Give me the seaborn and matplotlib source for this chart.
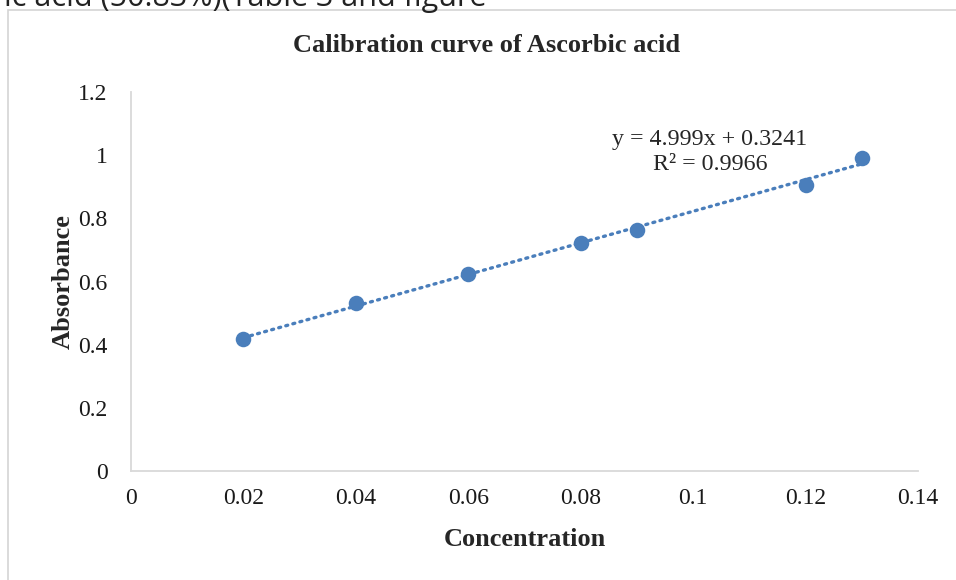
import numpy as np
import pandas as pd
import matplotlib
matplotlib.use('Agg')
import matplotlib.pyplot as plt
import seaborn as sns
from matplotlib.patches import Rectangle

# data
concentration = [0.02, 0.04, 0.06, 0.08, 0.09, 0.12, 0.13]
absorbance = [0.418, 0.532, 0.624, 0.722, 0.763, 0.906, 0.991]
x_ticks = [0, 0.02, 0.04, 0.06, 0.08, 0.1, 0.12, 0.14]
x_tick_labels = ['0', '0.02', '0.04', '0.06', '0.08', '0.1', '0.12', '0.14']
y_ticks = [0, 0.2, 0.4, 0.6, 0.8, 1.0, 1.2]
y_tick_labels = ['0', '0.2', '0.4', '0.6', '0.8', '1', '1.2']
equation_text = 'y = 4.999x + 0.3241\nR² = 0.9966'

sns.set_style('white')
plt.rcParams['font.family'] = ['Liberation Serif', 'DejaVu Serif']

df = pd.DataFrame({'Concentration': concentration, 'Absorbance': absorbance})
blue = '#4a7ebb'

fig = plt.figure(figsize=(9.56, 5.8), dpi=100)
ax = fig.add_axes([131 / 956, 109 / 580, 787 / 956, 379 / 580])

# linear trendline (dotted), like the spreadsheet one
slope, intercept = np.polyfit(df['Concentration'], df['Absorbance'], 1)
xs = np.array([df['Concentration'].min(), df['Concentration'].max()])
ax.plot(xs, slope * xs + intercept, color=blue, lw=2.4, linestyle=(0, (0.6, 1.6)),
        dash_capstyle='round', zorder=2)

sns.scatterplot(data=df, x='Concentration', y='Absorbance', ax=ax, s=125,
                color=blue, edgecolor=blue, linewidth=0, zorder=3)

ax.set_xlim(0, 0.14)
ax.set_ylim(0, 1.2)
ax.set_xticks(x_ticks)
ax.set_xticklabels(x_tick_labels)
ax.set_yticks(y_ticks)
ax.set_yticklabels(y_tick_labels)
ax.tick_params(axis='both', length=0, labelsize=17, labelcolor='#1a1a1a')
ax.tick_params(axis='x', pad=12)
ax.tick_params(axis='y', pad=17)

for side in ['top', 'right']:
    ax.spines[side].set_visible(False)
for side in ['left', 'bottom']:
    ax.spines[side].set_color('#d9d9d9')
    ax.spines[side].set_linewidth(1.3)

ax.set_xlabel('Concentration', fontsize=19, fontweight='bold', labelpad=14)
ax.set_ylabel('Absorbance', fontsize=19, fontweight='bold', labelpad=2)
fig.text(487 / 956, 1 - 46 / 580, 'Calibration curve of Ascorbic acid', fontsize=19,
         fontweight='bold', ha='center', va='center')

ax.text(0.103, 1.01, equation_text, fontsize=17.3, ha='center', va='center',
        linespacing=1.2)

# frame of the embedded chart and the clipped line of text above it
fig.patches.append(Rectangle((8 / 956, -0.1), 1.2, 1.1 - 10 / 580, transform=fig.transFigure,
                             fill=False, edgecolor='#d4d4d4', lw=1.2))
fig.text(0.004, 1 - 6 / 580, 'ic acid (50.83%)(Table 3 and figure', fontsize=22,
         family=['Open Sans', 'DejaVu Sans'], ha='left', va='baseline', color='#222222')

fig.savefig('out.png', dpi=100)
